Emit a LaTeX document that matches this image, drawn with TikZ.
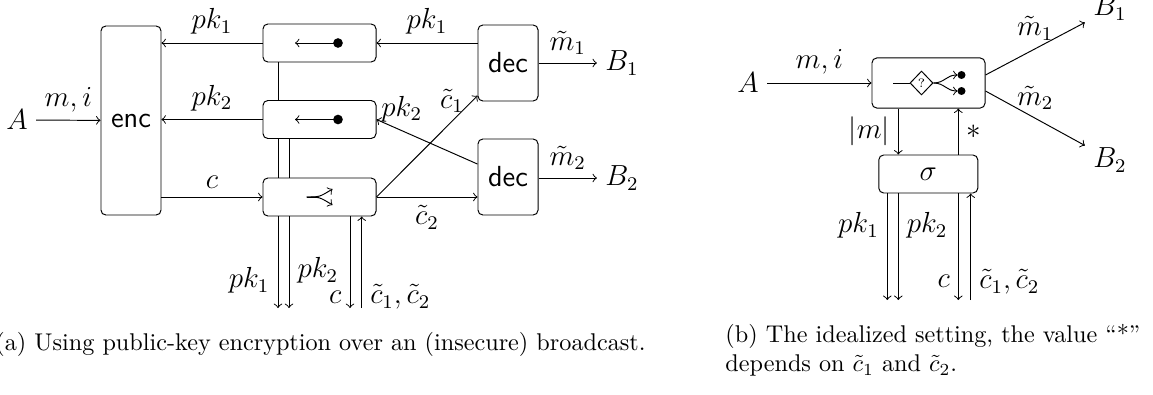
\documentclass[tikz,border=0pt]{standalone}
\usetikzlibrary{shapes.geometric}

\tikzset{
  box/.style={draw, rounded corners=2pt, fill=white, inner sep=0pt},
  keybox/.style={box, minimum width=46.7pt, minimum height=15.7pt},
  decbox/.style={box, minimum width=24.8pt, minimum height=31.4pt},
  caption/.style={font=\normalsize, inner sep=0pt},
}

\begin{document}
\begin{tikzpicture}[x=0.4132pt, y=-0.4132pt, every node/.style={font=\large}]
\useasboundingbox (0,0) rectangle (1153,394);

% (a) real setting
\node (A) at (17,120) {$A$};
\node[box, minimum width=24.8pt, minimum height=78.1pt] (enc) at (131,120.5) {\textsf{enc}};
\node[keybox] (key1) at (319.5,43) {};
\node[keybox] (key2) at (319.5,119.5) {};
\node[keybox] (bcast) at (319.5,197) {};
\node[decbox] (dec1) at (508,63) {\textsf{dec}};
\node[decbox] (dec2) at (508,177) {\textsf{dec}};
\node (B1) at (622,63) {$B_1$};
\node (B2) at (622,178) {$B_2$};

\coordinate (o1) at (278,308);
\coordinate (o2) at (289,308);
\coordinate (o3) at (350,308);
\coordinate (i3) at (361.7,308);

\draw[->] (A) -- node[above] {$m,i$} (enc);
\draw[->] (key1) -- node[above] {$pk_1$} (key1 -| enc.east);
\draw[->] (key2) -- node[above] {$pk_2$} (key2 -| enc.east);
\draw[->] (enc.east |- bcast) -- node[above] {$c$} (bcast);
\draw[->] (dec1.west |- key1) -- node[above] {$pk_1$} (key1);
\draw[->] (dec2.157) -- node[pos=0.75, above] {$pk_2$} (key2.east);
\draw[->] (bcast.east) -- node[pos=0.95, left] {$\tilde{c}_1$} (dec1.227);
\draw[->] (bcast) -- node[below] {$\tilde{c}_2$} (bcast -| dec2.west);
\draw[->] (dec1) -- node[above] {$\tilde{m}_1$} (B1);
\draw[->] (dec2.east |- B2) -- node[above] {$\tilde{m}_2$} (B2);

\draw (key1.south -| o1) -- (key2.north -| o1);
\draw (key2.south -| o1) -- (bcast.north -| o1);
\draw (key2.south -| o2) -- (bcast.north -| o2);
\draw[->] (bcast.south -| o1) -- node[pos=0.7, left] {$pk_1$} (o1);
\draw[->] (bcast.south -| o2) -- node[pos=0.59, right] {$pk_2$} (o2);
\draw[->] (bcast.south -| o3) -- node[pos=0.88, left] {$c$} (o3);
\draw[->] (i3) -- node[pos=0.12, right] {$\tilde{c}_1, \tilde{c}_2$} (bcast.south -| i3);

% icons in the boxes
\begin{scope}[shift={(key1)}]
  \draw[->] (18.5,0) -- (-24.5,0);
  \fill (18.5,0) circle (2pt);
\end{scope}
\begin{scope}[shift={(key2)}]
  \draw[->] (18.5,0) -- (-24.5,0);
  \fill (18.5,0) circle (2pt);
\end{scope}
\begin{scope}[shift={(bcast)}]
  \draw (-13,0) -- (-1,0);
  \draw[->] (-13,0) .. controls (0,0) .. (13,-8);
  \draw[->] (-13,0) .. controls (0,0) .. (13,8);
\end{scope}

% (b) ideal setting
\node (A2) at (748,83) {$A$};
\node[box, minimum width=46.7pt, minimum height=20.7pt] (ideal) at (928.5,83) {};
\node[box, minimum width=40.9pt, minimum height=15.7pt] (sigma) at (928.3,174) {$\sigma$};
\node (B3) at (1110,8) {$B_1$};
\node (B4) at (1110,160) {$B_2$};

\coordinate (q1) at (887.3,300);
\coordinate (q2) at (898.3,300);
\coordinate (q3) at (958.3,300);
\coordinate (r3) at (970.7,300);

\draw[->] (A2) -- node[above] {$m,i$} (ideal);
\draw[->] (ideal.8) -- node[above] {$\tilde{m}_1$} (B3.210);
\draw[->] (ideal.-8) -- node[above] {$\tilde{m}_2$} (B4.150);
\draw[->] (ideal.south -| q2) -- node[left] {$|m|$} (sigma.north -| q2);
\draw[->] (sigma.north -| q3) -- node[right] {$*$} (ideal.south -| q3);
\draw[->] (sigma.south -| q1) -- node[pos=0.3, left] {$pk_1$} (q1);
\draw[->] (sigma.south -| q2) -- node[pos=0.3, right] {$pk_2$} (q2);
\draw[->] (sigma.south -| q3) -- node[pos=0.82, left] {$c$} (q3);
\draw[->] (r3) -- node[pos=0.17, right] {$\tilde{c}_1, \tilde{c}_2$} (sigma.south -| r3);

\begin{scope}[shift={(ideal)}]
  \node[draw, diamond, inner sep=0pt, minimum width=9.5pt, minimum height=9.9pt, font=\tiny] (test) at (-7,0) {?};
  \draw (-35.5,0) -- (test.west);
  \draw[->] (test.east) .. controls (16,0) and (18,-8) .. (29,-8);
  \draw[->] (test.east) .. controls (16,0) and (18,8) .. (29,8);
  \fill (33,-8) circle (1.65pt);
  \fill (33,8) circle (1.65pt);
\end{scope}

% captions
\node[caption, anchor=base west] (capa) at (-5,350) {(a) Using public-key encryption over an (insecure) broadcast.};
\node[caption, anchor=north west, align=left] (capb) at (725,324) {(b) The idealized setting, the value ``*''\\ depends on $\tilde{c}_1$ and $\tilde{c}_2$.};
\end{tikzpicture}
\end{document}
